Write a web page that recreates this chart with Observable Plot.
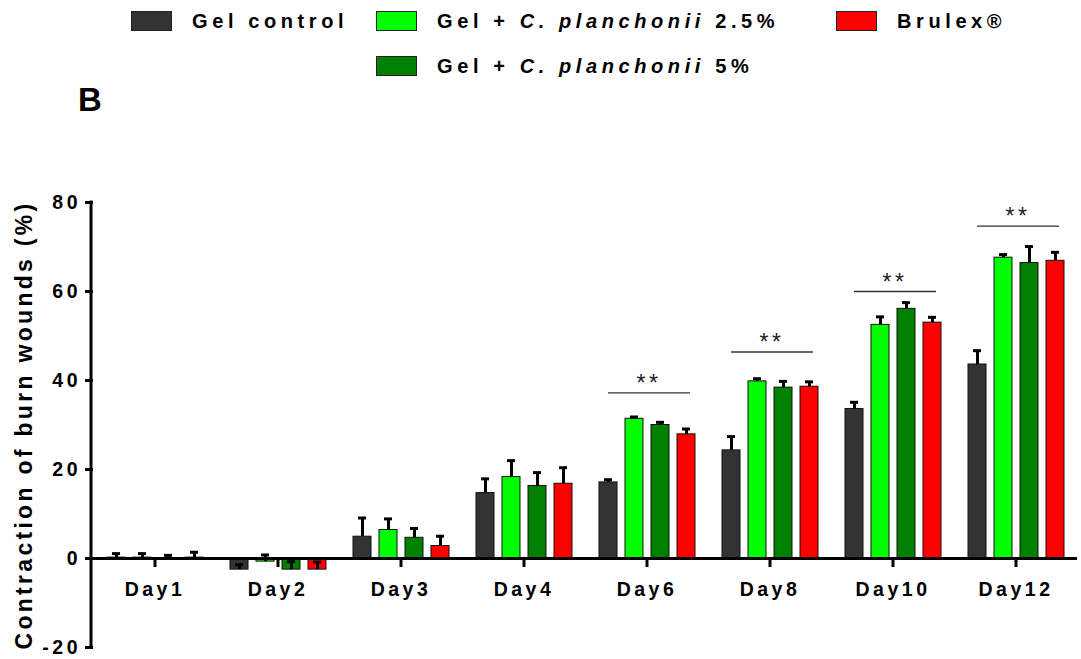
<!DOCTYPE html>
<html>
<head>
<meta charset="utf-8">
<script src="https://cdn.jsdelivr.net/npm/d3@7"></script>
<script src="https://cdn.jsdelivr.net/npm/@observablehq/plot@0.6"></script>
<style>
  body { margin: 0; background: #fff; font-family: "Liberation Sans", Arial, sans-serif; }
  #header { position: relative; width: 1081px; height: 120px; }
  .sw { position: absolute; width: 41px; height: 20px; box-sizing: border-box; border: 1px solid #222; }
  .lt { position: absolute; font-weight: bold; font-size: 20px; letter-spacing: 4.6px; color: #000; white-space: nowrap; line-height: 20px; }
  #B { position: absolute; left: 78px; top: 83px; font-size: 33px; line-height: 33px; font-weight: bold; }
  svg text { letter-spacing: 3.5px; }
  g[aria-label="y-axis tick"] { stroke-width: 3; }
  g[aria-label="y-axis label"] text { letter-spacing: 3.3px; font-size: 23px; }
</style>
</head>
<body>
<div id="header">
  <div class="sw" style="left:131px;top:11px;background:#333333"></div>
  <div class="lt" style="left:192px;top:11px">Gel control</div>
  <div class="sw" style="left:376px;top:11px;background:#00ff00"></div>
  <div class="lt" style="left:437px;top:11px">Gel + <i>C. planchonii</i> 2.5%</div>
  <div class="sw" style="left:836px;top:11px;background:#ff0000"></div>
  <div class="lt" style="left:897px;top:11px">Brulex®</div>
  <div class="sw" style="left:376px;top:56px;background:#008000"></div>
  <div class="lt" style="left:437px;top:56px">Gel + <i>C. planchonii</i> 5%</div>
  <div id="B">B</div>
</div>
<div id="chart"></div>
<script>
const days = ["Day1", "Day2", "Day3", "Day4", "Day6", "Day8", "Day10", "Day12"];
const series = ["Gel control", "Gel + C. planchonii 2.5%", "Gel + C. planchonii 5%", "Brulex®"];
const colors = ["#333333", "#00ff00", "#008000", "#ff0000"];

const gelControl    = [0.2, -2.5, 4.9, 14.7, 17.1, 24.3, 33.6, 43.6];
const gelCp25       = [0.2, -0.7, 6.4, 18.3, 31.4, 39.8, 52.5, 67.6];
const gelCp5        = [0.1, -2.5, 4.65, 16.3, 30.0, 38.4, 56.1, 66.4];
const brulex        = [0.2, -2.5, 2.8, 16.8, 27.9, 38.6, 53.0, 66.9];

const gelControlErr = [0.9, 1.1, 4.2, 3.2, 0.6, 3.1, 1.5, 3.1];
const gelCp25Err    = [0.9, 1.5, 2.5, 3.7, 0.4, 0.6, 1.8, 0.7];
const gelCp5Err     = [0.6, 1.8, 2.1, 3.0, 0.6, 1.4, 1.4, 3.7];
const brulexErr     = [1.2, 1.7, 2.2, 3.6, 1.2, 1.1, 1.2, 1.9];

const sigDays = ["Day6", "Day8", "Day10", "Day12"];
const sigY    = [37.2, 46.4, 60.0, 74.7];
const sigText = ["**", "**", "**", "**"];

const yTicks = [-20, 0, 20, 40, 60, 80];

const values = [gelControl, gelCp25, gelCp5, brulex];
const errs = [gelControlErr, gelCp25Err, gelCp5Err, brulexErr];
const data = days.flatMap((day, i) => series.map((s, j) => ({day, series: s, value: values[j][i], err: errs[j][i]})));
const sig = sigDays.map((day, i) => ({day, y: sigY[i], text: sigText[i]}));

const marginLeft = 91;
const chart = Plot.plot({
  width: 1081,
  height: 539,
  marginTop: 82,
  marginBottom: 12,
  marginLeft,
  marginRight: 2,
  style: {fontFamily: "'Liberation Sans', Arial, sans-serif", fontSize: "19.5px", fontWeight: "bold", color: "#000", background: "#fff", overflow: "visible"},
  fx: {domain: days, padding: 0, axis: null},
  x: {domain: series, paddingInner: 0.316, paddingOuter: 0.51, axis: null},
  y: {domain: [-20, 80], ticks: yTicks, tickFormat: d => String(d), tickSize: 8, tickPadding: 4.5, label: "Contraction of burn wounds (%)", labelAnchor: "center", labelOffset: 78, labelArrow: "none"},
  color: {domain: series, range: colors},
  marks: [
    Plot.barY(data, {fx: "day", x: "series", y: "value", fill: "series", stroke: "#111", strokeWidth: 1}),
    Plot.ruleX(data, {fx: "day", x: "series", y1: "value", y2: d => d.value + d.err, strokeWidth: 3, stroke: "#000"}),
    Plot.tickY(data, {fx: "day", x: "series", y: d => d.value + d.err, strokeWidth: 3, stroke: "#000", insetLeft: 5, insetRight: 5}),
    Plot.ruleY([0], {strokeWidth: 3, stroke: "#000"}),
    Plot.ruleX(days, {fx: d => d, x: null, y1: 0, y2: 0, insetBottom: -9, strokeWidth: 3, stroke: "#000"}),
    Plot.text(days, {fx: d => d, y: 0, text: d => d, dy: 31, fontSize: 19.5}),
    Plot.ruleY(sig, {fx: "day", y: "y", x1: () => series[0], x2: () => series[3], insetLeft: 9, insetRight: 5, stroke: "#333", strokeWidth: 1.3}),
    Plot.text(sig, {fx: "day", y: "y", text: "text", dy: -9, fontSize: 23, fontWeight: "normal", dx: 2, fill: "#222"})
  ]
});
const y = chart.scale("y");
d3.select(chart).append("line")
  .attr("x1", marginLeft).attr("x2", marginLeft)
  .attr("y1", y.apply(80) - 1.5).attr("y2", y.apply(-20) + 1.5)
  .attr("stroke", "#000").attr("stroke-width", 3);
document.getElementById("chart").appendChild(chart);
</script>
</body>
</html>
